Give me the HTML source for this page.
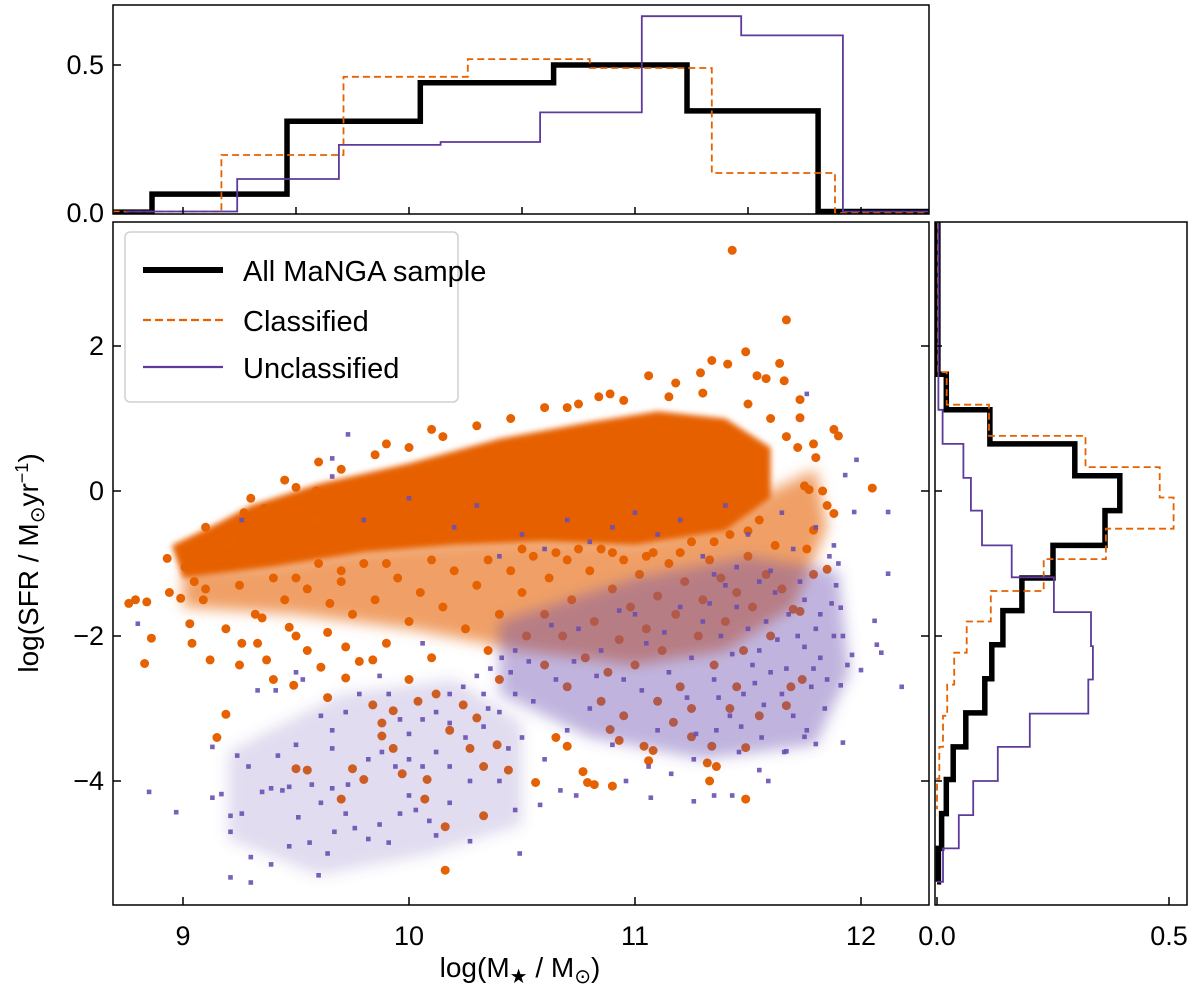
<!DOCTYPE html>
<html><head><meta charset="utf-8"><style>
html,body{margin:0;padding:0;background:#fff;}
svg{display:block;font-family:"Liberation Sans","DejaVu Sans",sans-serif;}
</style></head><body>
<svg id="chart" width="1200" height="995" viewBox="0 0 1200 995" xmlns="http://www.w3.org/2000/svg">
<defs>
<clipPath id="clipMain"><rect x="113" y="222" width="816" height="683"/></clipPath>
<clipPath id="clipTop"><rect x="113" y="5" width="816" height="209"/></clipPath>
<clipPath id="clipRight"><rect x="935" y="222" width="252" height="683"/></clipPath>
<filter id="soft" x="-20%" y="-20%" width="140%" height="140%"><feGaussianBlur stdDeviation="7"/></filter>
<filter id="softCore" x="-20%" y="-20%" width="140%" height="140%"><feGaussianBlur stdDeviation="3"/></filter>
</defs>
<g id="main-layer"></g>
<g id="top-layer"></g>
<g id="right-layer"></g>
<g id="legend">
<rect x="125" y="232" width="333" height="170" rx="5" fill="#fff" fill-opacity="0.85" stroke="#d0d0d0" stroke-width="1.5"/>
<g><line x1="143" y1="270" x2="223" y2="270" stroke="#000" stroke-width="6"/><text x="243" y="281" font-size="29">All MaNGA sample</text></g>
<g><line x1="143" y1="320" x2="223" y2="320" stroke="#e66100" stroke-width="2.2" stroke-dasharray="8,4"/><text x="243" y="331" font-size="29">Classified</text></g>
<g><line x1="143" y1="367" x2="223" y2="367" stroke="#5d3a9b" stroke-width="2.2"/><text x="243" y="378" font-size="29">Unclassified</text></g>
</g>
<text x="520" y="977" font-size="28" text-anchor="middle">log(M<tspan font-size="20" dy="6">★</tspan><tspan dy="-6"> / M</tspan><tspan font-size="20" dy="6">⊙</tspan><tspan dy="-6">)</tspan></text>
<text transform="translate(38,563) rotate(-90)" font-size="28" text-anchor="middle">log(SFR / M<tspan font-size="20" dy="6">⊙</tspan><tspan dy="-6">yr</tspan><tspan font-size="18" dy="-10">−1</tspan><tspan dy="10">)</tspan></text>
</svg>
<script>
// ---- data ----
const topBlackEdges=[8.695,8.863,9.46,10.05,10.64,11.23,11.81,12.30];
const topBlackVals=[0.003,0.064,0.31,0.44,0.50,0.345,0.005];
const topOrangeEdges=[8.695,9.17,9.71,10.26,10.80,11.34,11.885,12.30];
const topOrangeVals=[0.005,0.196,0.46,0.52,0.49,0.135,0.0];
const topPurpleEdges=[8.75,9.24,9.69,10.14,10.58,11.03,11.47,11.92,12.30];
const topPurpleVals=[0.005,0.115,0.23,0.24,0.34,0.665,0.60,0.005];
const rightBlackEdges=[3.7,1.61,1.12,0.65,0.21,-0.27,-0.75,-1.2,-1.65,-2.12,-2.59,-3.06,-3.53,-3.98,-4.45,-4.93,-5.39];
const rightBlackVals=[0.002,0.02,0.114,0.297,0.394,0.362,0.25,0.183,0.142,0.118,0.103,0.062,0.035,0.02,0.01,0.003];
const rightOrangeEdges=[3.7,1.64,1.19,0.76,0.33,-0.09,-0.52,-0.94,-1.38,-1.8,-2.23,-2.67,-3.1,-3.53,-3.97,-4.39];
const rightOrangeVals=[0.002,0.021,0.112,0.32,0.48,0.51,0.364,0.23,0.116,0.064,0.037,0.022,0.013,0.005,0.0];
const rightPurpleEdges=[3.7,1.12,0.65,0.18,-0.27,-0.75,-1.19,-1.67,-2.14,-2.6,-3.07,-3.53,-4.0,-4.47,-4.93,-5.39];
const rightPurpleVals=[0.003,0.012,0.057,0.073,0.097,0.161,0.252,0.332,0.336,0.326,0.2,0.131,0.078,0.047,0.013];
const coreUpper=[[8.95,-0.75],[9.15,-0.45],[9.3,-0.2],[9.6,0.1],[10.0,0.38],[10.4,0.72],[10.8,0.95],[11.1,1.1],[11.4,1.0],[11.6,0.6]];
const coreLower=[[11.6,-0.1],[11.4,-0.55],[11.0,-0.75],[10.6,-0.7],[10.2,-0.75],[9.8,-0.85],[9.4,-1.05],[9.0,-1.2]];
const orangeMidRegion=[[9.0,-1.1],[9.4,-1.0],[9.8,-0.8],[10.2,-0.7],[10.6,-0.65],[11.0,-0.7],[11.4,-0.45],[11.6,0.0],[11.8,0.3],[11.85,-0.5],[11.7,-1.6],[11.4,-2.2],[11.0,-2.4],[10.5,-2.2],[10.0,-1.9],[9.5,-1.7],[9.0,-1.6]];
const purpleClusterRegion=[[10.4,-1.8],[11.0,-1.2],[11.5,-0.9],[11.9,-1.1],[11.95,-2.5],[11.8,-3.5],[11.3,-3.7],[10.8,-3.4],[10.4,-2.8]];
const purpleLowRegion=[[9.2,-3.6],[9.7,-2.8],[10.2,-2.6],[10.5,-3.2],[10.5,-4.6],[10.1,-5.0],[9.6,-5.3],[9.2,-4.8]];
const orangePts=[[8.76,-1.55],[8.79,-1.5],[8.84,-1.53],[8.86,-2.03],[8.83,-2.38],[8.93,-0.93],[8.94,-1.4],[8.99,-1.48],[9.01,-1.05],[9.05,-1.25],[9.03,-1.83],[9.04,-2.1],[9.12,-2.33],[9.09,-1.5],[9.14,-0.93],[9.2,-0.75],[9.22,-0.7],[9.27,-0.3],[9.36,-0.24],[9.19,-1.9],[9.26,-2.1],[9.25,-2.4],[9.19,-3.08],[9.15,-3.4],[9.37,-2.33],[9.4,-2.6],[9.33,-2.1],[9.32,-1.7],[9.47,-1.88],[9.5,-2.0],[9.55,-2.2],[9.61,-2.43],[9.49,-2.68],[9.55,-3.85],[9.5,-3.83],[9.59,0.0],[9.59,-0.4],[9.67,-0.15],[9.64,-1.95],[9.72,-2.15],[9.72,-2.58],[9.64,-2.85],[9.75,-3.83],[9.8,-3.98],[9.7,-4.25],[9.84,-2.95],[9.88,-3.2],[9.93,-3.03],[9.88,-3.38],[9.93,-3.55],[9.97,-3.9],[10.08,-3.98],[10.07,-4.25],[10.16,-4.63],[10.16,-5.23],[9.78,-2.35],[9.84,-2.33],[10.0,-2.6],[10.04,-2.9],[10.12,-2.8],[10.24,-2.95],[10.3,-3.13],[10.27,-3.55],[10.33,-3.8],[10.33,-4.48],[10.39,-3.5],[10.18,-3.3],[10.44,-3.85],
[11.43,3.32],[11.67,2.36],[11.49,1.92],[11.34,1.8],[11.41,1.75],[11.64,1.76],[11.06,1.59],[11.29,1.63],[11.54,1.59],[11.58,1.55],[11.66,1.52],[11.18,1.49],[10.84,1.3],[10.89,1.34],[10.7,1.15],[11.73,1.26],[11.73,1.01],[11.88,0.85],[11.9,0.76],[11.79,0.65],[11.8,0.46],[11.67,0.75],[11.72,0.6],[11.75,0.07],[11.77,0.02],[11.83,0.0],[11.88,-0.31],[11.85,-0.2],[12.05,0.04],[11.79,-0.54],[11.76,-0.8],[11.85,-1.08],[11.79,-1.15],[11.7,-1.63],[11.73,-1.66],[11.69,-2.7],[11.74,-2.6],[11.67,-2.96],[11.42,-3.0],[11.34,-3.52],[11.49,-3.54],[11.32,-3.75],[11.36,-3.8],[11.33,-4.0],[11.49,-4.25],[11.08,-3.58],[11.06,-3.72],[10.79,-4.02],[10.82,-4.05],[10.9,-4.07],[10.56,-4.02],[10.77,-3.87],[11.04,-3.52],[10.93,-3.44],[11.25,-3.39],[10.7,-3.52],[11.17,-3.19],[10.89,-3.29],
[10.45,-1.1],[10.5,-1.4],[10.55,-0.9],[10.6,-1.7],[10.62,-1.2],[10.68,-2.0],[10.7,-0.95],[10.72,-1.5],[10.78,-2.3],[10.8,-1.1],[10.82,-1.8],[10.85,-0.8],[10.88,-2.5],[10.9,-1.35],[10.93,-2.05],[10.95,-0.95],[10.98,-1.6],[11.0,-2.4],[11.02,-1.15],[11.05,-1.9],[11.08,-0.85],[11.1,-1.45],[11.12,-2.2],[11.15,-1.0],[11.18,-1.7],[11.2,-2.7],[11.22,-1.25],[11.25,-0.7],[11.28,-2.0],[11.3,-1.5],[11.33,-0.95],[11.35,-2.4],[11.38,-1.2],[11.4,-1.8],[11.42,-0.6],[11.45,-1.4],[11.48,-2.2],[11.5,-0.9],[11.52,-1.6],[11.55,-0.4],[11.58,-1.15],[11.6,-2.0],[11.62,-0.75],[11.65,-1.35],[11.1,-2.9],[10.95,-3.1],[10.7,-2.7],[10.6,-2.4],[10.52,-2.0],[10.4,-1.7],[10.35,-2.2],[10.3,-1.3],[10.25,-1.9],[10.2,-1.1],[10.15,-1.6],[10.1,-2.3],[10.05,-1.4],[10.0,-1.8],[9.95,-1.2],[9.9,-2.1],[9.85,-1.5],[9.8,-1.0],[9.75,-1.7],[9.7,-1.25],[9.65,-1.55],[9.6,-1.0],[9.55,-1.35],[9.45,-1.5],[9.4,-1.2],[9.35,-1.75],[10.4,-2.6],[10.65,-3.4],[10.85,-2.9],[11.25,-3.0],[11.45,-2.7],[11.55,-3.1],
[9.1,-0.5],[9.3,-0.1],[9.5,0.05],[9.7,0.3],[9.85,0.5],[10.0,0.6],[10.15,0.75],[10.3,0.9],[10.45,1.0],[10.6,1.15],[10.75,1.2],[10.95,1.25],[11.15,1.3],[11.3,1.35],[11.5,1.2],[11.6,1.0],[10.1,0.85],[9.9,0.65],[9.6,0.4],[9.45,0.15],
[10.5,-0.8],[10.65,-0.85],[10.75,-0.8],[10.9,-0.85],[11.05,-0.9],[11.2,-0.85],[11.35,-0.7],[11.5,-0.55],[10.35,-0.95],[10.1,-0.95],[9.9,-1.0],[9.7,-1.1],[9.5,-1.2],[9.25,-1.3],[9.1,-1.35]];
const purplePts=[[8.8,-1.83],[8.85,-4.15],[8.97,-4.43],[9.13,-3.53],[9.13,-4.23],[9.17,-4.18],[9.21,-4.48],[9.21,-5.33],[9.3,-5.4],[9.21,-4.7],[9.26,-4.45],[9.29,-3.8],[9.3,-5.05],[9.35,-4.15],[9.39,-4.1],[9.44,-4.13],[9.47,-4.08],[9.39,-5.15],[9.47,-4.9],[9.51,-4.5],[9.56,-4.85],[9.6,-5.3],[9.64,-5.0],[9.67,-4.7],[9.72,-4.45],[9.76,-4.65],[9.82,-4.8],[9.87,-4.6],[9.91,-4.85],[9.96,-4.45],[10.0,-4.2],[10.09,-4.55],[10.12,-4.75],[9.57,-4.05],[9.61,-4.3],[9.66,-4.1],[9.73,-4.05],[9.82,-3.7],[9.88,-3.6],[9.94,-3.8],[10.0,-3.7],[10.06,-3.8],[10.12,-3.6],[9.66,-3.3],[9.72,-3.05],[9.78,-2.8],[9.87,-2.55],[9.91,-2.8],[9.96,-3.15],[10.0,-3.35],[10.06,-3.15],[10.12,-3.05],[10.18,-2.8],[10.24,-2.7],[10.3,-2.55],[10.36,-2.45],[10.41,-2.3],[10.47,-2.2],[10.18,-3.2],[10.25,-3.4],[10.33,-3.25],[10.4,-3.05],[10.47,-2.8],[10.44,-3.55],[10.33,-2.8],[10.06,-2.1],[9.5,-2.5],[9.41,-2.75],[9.33,-2.75],[9.53,-2.6],[9.61,-3.1],[9.66,-3.55],[9.24,-3.65],[9.42,-3.65],[9.5,-3.5],[9.73,0.78],[9.66,0.45],[9.66,0.2],[9.26,-0.4],[10.18,-3.8],[10.27,-4.0],[10.47,-4.4],[10.49,-5.0],[10.27,-4.83],[10.18,-4.3],[10.03,-4.4],
[11.76,1.34],[11.98,0.43],[11.93,0.22],[11.97,-0.29],[12.12,-0.29],[12.12,-1.14],[11.88,-0.75],[11.86,-0.9],[11.89,-1.3],[11.91,-1.61],[12.06,-1.79],[12.07,-2.12],[12.09,-2.23],[11.96,-2.26],[12.0,-2.47],[11.94,-2.4],[12.18,-2.7],[11.91,-2.68],[11.92,-3.47],[11.8,-3.49],[11.75,-3.39],[11.67,-3.59],[11.55,-3.85],[11.59,-4.0],[11.43,-4.2],[11.35,-4.2],[11.26,-4.28],[11.07,-4.23],[10.74,-4.2],[10.67,-4.13],[10.58,-4.33],
[11.4,-1.3],[11.45,-1.6],[11.5,-1.9],[11.55,-2.2],[11.6,-2.5],[11.65,-2.8],[11.7,-3.1],[11.75,-1.5],[11.8,-1.9],[11.82,-2.3],[11.78,-2.7],[11.72,-2.0],[11.68,-1.7],[11.62,-1.4],[11.58,-1.8],[11.52,-2.4],[11.48,-2.8],[11.42,-3.1],[11.38,-2.0],[11.35,-2.6],[11.3,-1.8],[11.25,-2.3],[11.2,-1.6],[11.15,-2.5],[11.1,-3.3],[11.05,-2.1],[11.0,-1.7],[10.95,-2.6],[10.9,-3.5],[10.85,-2.2],[10.8,-3.0],[10.75,-1.9],[10.7,-3.3],[10.65,-2.6],[10.6,-3.7],[10.55,-2.9],[10.5,-3.4],[10.45,-2.5],[10.4,-4.0],[10.35,-3.0],[11.85,-2.6],[11.88,-2.0],[11.9,-1.0],[11.84,-3.0],[11.76,-3.3],[11.66,-3.6],[11.56,-3.4],[11.46,-3.6],[11.36,-3.3],[11.26,-3.7],[11.16,-3.9],[11.06,-3.8],[10.96,-4.0],[11.6,-1.1],[11.7,-0.8],[11.8,-0.5],[11.65,-0.3],[11.5,-0.6],[11.4,-0.2],[11.3,-0.9],[11.2,-0.4],[11.1,-0.6],[11.0,-0.3],[10.9,-0.5],[10.8,-0.7],[10.7,-0.4],[10.6,-0.8],[10.5,-0.6],[10.4,-0.9],[10.3,-0.2],[10.2,-0.5],[10.0,-0.1],[9.8,-0.4],[11.75,-2.15],[11.63,-2.05],[11.53,-2.65],[11.43,-2.25],[11.33,-1.55],[11.23,-2.85],[11.13,-1.95],[11.03,-2.75],[10.93,-1.65],[10.83,-2.55],[10.73,-2.35],[10.63,-1.85],[10.53,-2.35],[11.87,-1.55],[11.92,-2.0],[11.45,-1.05],[11.35,-1.15],[11.55,-1.25],[11.67,-2.45],[11.57,-2.95],[11.47,-3.25],[11.37,-2.85],[11.27,-3.35],[11.73,-1.25],[11.82,-1.7],[11.79,-2.45]];
const xTicks=[9,10,11,12];
const xTickLabels=["9","10","11","12"];
const yTicks=[2,0,-2,-4];
const yTickLabels=["2","0","\u22122","\u22124"];
const histTicks=[0,0.5];
const histTickLabels=["0.0","0.5"];

// ---- axes ----
const X0=183, XS=226;
const sx=v=>X0+(v-9)*XS;
const sy=v=>491-v*72.5;
const hy=v=>213-v*296;
const hx=v=>937+v*464;
const NS="http://www.w3.org/2000/svg";
function el(tag,attrs,parent){const e=document.createElementNS(NS,tag);for(const k in attrs)e.setAttribute(k,attrs[k]);parent.appendChild(e);return e;}
const polyPts=arr=>arr.map(p=>sx(p[0]).toFixed(1)+','+sy(p[1]).toFixed(1)).join(' ');
const mainL=document.getElementById('main-layer');
const topL=document.getElementById('top-layer');
const rightL=document.getElementById('right-layer');

const gm=el('g',{'clip-path':'url(#clipMain)'},mainL);
const mid=el('polygon',{points:polyPts(orangeMidRegion),fill:'#e66100','fill-opacity':'0.6',filter:'url(#soft)'},gm);


const core=el('polygon',{points:polyPts(coreUpper.concat(coreLower)),fill:'#e66100',filter:'url(#softCore)'},gm);


const og=el('g',{fill:'#e66100'},gm);


orangePts.forEach(p=>{const c=el('circle',{cx:sx(p[0]).toFixed(1),cy:sy(p[1]).toFixed(1),r:4.5},og);

});
const pc=el('polygon',{points:polyPts(purpleClusterRegion),fill:'#6a4fb0','fill-opacity':'0.42',filter:'url(#soft)'},gm);


const pl=el('polygon',{points:polyPts(purpleLowRegion),fill:'#6a4fb0','fill-opacity':'0.2',filter:'url(#soft)'},gm);


const pg=el('g',{fill:'#6a4fb0','fill-opacity':'0.9'},gm);


purplePts.forEach(p=>{const c=el('rect',{x:(sx(p[0])-2.3).toFixed(1),y:(sy(p[1])-2.3).toFixed(1),width:4.6,height:4.6},pg);

});
const mf=el('rect',{x:113,y:222,width:816,height:683,fill:'none',stroke:'#000','stroke-width':1.5},mainL);


xTicks.forEach((t,i)=>{
  el('line',{x1:sx(t),x2:sx(t),y1:905,y2:897,stroke:'#000','stroke-width':1.5},mainL);
  const tx=el('text',{x:sx(t),y:945,'font-size':27,'text-anchor':'middle'},mainL);tx.textContent=xTickLabels[i];
  
  
});
yTicks.forEach((t,i)=>{
  el('line',{x1:113,x2:121,y1:sy(t),y2:sy(t),stroke:'#000','stroke-width':1.5},mainL);
  el('line',{x1:929,x2:921,y1:sy(t),y2:sy(t),stroke:'#000','stroke-width':1.5},mainL);
  const tx=el('text',{x:104,y:sy(t)+9,'font-size':27,'text-anchor':'end'},mainL);tx.textContent=yTickLabels[i];
  
  
});

function stepTop(edges,vals){let d='M'+sx(edges[0])+','+hy(0);vals.forEach((v,i)=>{d+=' L'+sx(edges[i]).toFixed(1)+','+hy(v).toFixed(1)+' L'+sx(edges[i+1]).toFixed(1)+','+hy(v).toFixed(1);});d+=' L'+sx(edges[edges.length-1])+','+hy(0);return d;}
function stepRight(edges,vals){let d='M'+hx(0)+','+sy(edges[0]);vals.forEach((v,i)=>{d+=' L'+hx(v).toFixed(1)+','+sy(edges[i]).toFixed(1)+' L'+hx(v).toFixed(1)+','+sy(edges[i+1]).toFixed(1);});d+=' L'+hx(0)+','+sy(edges[edges.length-1]);return d;}

const gt=el('g',{'clip-path':'url(#clipTop)',fill:'none'},topL);
let p1=el('path',{d:stepTop(topBlackEdges,topBlackVals),stroke:'#000','stroke-width':5.5},gt);


let p2=el('path',{d:stepTop(topOrangeEdges,topOrangeVals),stroke:'#e66100','stroke-width':1.8,'stroke-dasharray':'7,4'},gt);


let p3=el('path',{d:stepTop(topPurpleEdges,topPurpleVals),stroke:'#5d3a9b','stroke-width':1.8},gt);


const tf=el('rect',{x:113,y:5,width:816,height:209,fill:'none',stroke:'#000','stroke-width':1.5},topL);


[9,9.5,10,10.5,11,11.5,12].forEach(t=>el('line',{x1:sx(t),x2:sx(t),y1:214,y2:207,stroke:'#000','stroke-width':1.5},topL));
histTicks.forEach((t,i)=>{
  el('line',{x1:113,x2:121,y1:hy(t),y2:hy(t),stroke:'#000','stroke-width':1.5},topL);
  const tx=el('text',{x:104,y:hy(t)+9,'font-size':27,'text-anchor':'end'},topL);tx.textContent=histTickLabels[i];
  
  
});

const gr=el('g',{'clip-path':'url(#clipRight)',fill:'none'},rightL);
let r1=el('path',{d:stepRight(rightBlackEdges,rightBlackVals),stroke:'#000','stroke-width':5.5},gr);


let r2=el('path',{d:stepRight(rightOrangeEdges,rightOrangeVals),stroke:'#e66100','stroke-width':1.8,'stroke-dasharray':'7,4'},gr);


let r3=el('path',{d:stepRight(rightPurpleEdges,rightPurpleVals),stroke:'#5d3a9b','stroke-width':1.8},gr);


const rf=el('rect',{x:935,y:222,width:252,height:683,fill:'none',stroke:'#000','stroke-width':1.5},rightL);


yTicks.forEach(t=>el('line',{x1:935,x2:942,y1:sy(t),y2:sy(t),stroke:'#000','stroke-width':1.5},rightL));
histTicks.forEach((t,i)=>{
  el('line',{x1:hx(t),x2:hx(t),y1:905,y2:897,stroke:'#000','stroke-width':1.5},rightL);
  const tx=el('text',{x:hx(t),y:945,'font-size':27,'text-anchor':'middle'},rightL);tx.textContent=histTickLabels[i];
  
  
});
document.getElementById('chart').appendChild(document.getElementById('legend'));
</script>
</body></html>
